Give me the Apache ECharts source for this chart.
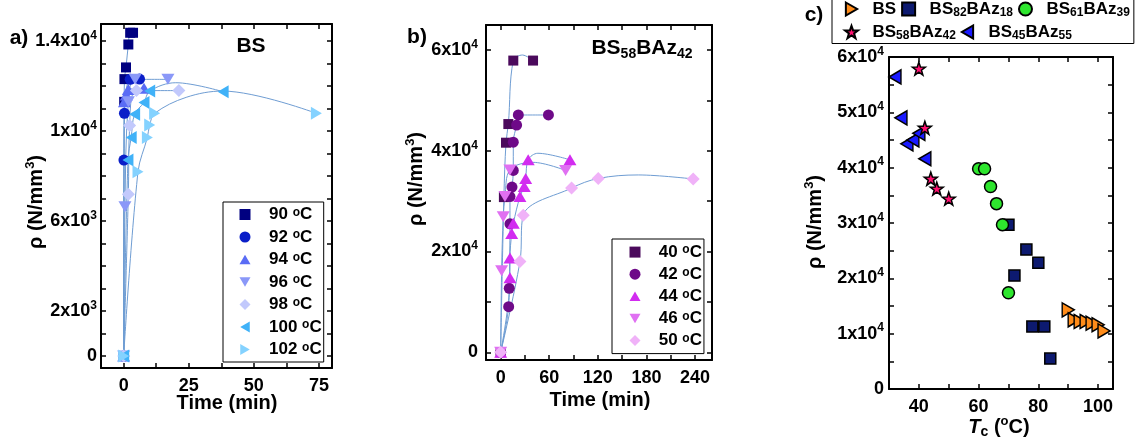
<!DOCTYPE html>
<html>
<head>
<meta charset="utf-8">
<script src="https://cdn.jsdelivr.net/npm/echarts@6.0.0/dist/echarts.min.js"></script>
<style>
html, body { margin: 0; padding: 0; background: #fff; }
#chart { width: 1139px; height: 441px; }
</style>
</head>
<body>
<div id="chart"></div>
<script>
var FONT = '"Liberation Sans", Arial, sans-serif';

// ---- a) BS : rho (N/mm3) against time (min), one set per Tc ----
var tempsA = ['90', '92', '94', '96', '98', '100', '102'];
var a90  = [[0, 0], [0.2, 11300], [0.3, 12310], [0.9, 12830], [1.8, 13850], [2.5, 14370], [3.6, 14370]];
var a92  = [[0, 0], [0.1, 8710], [0.3, 10790], [2.5, 12300], [6.1, 12310]];
var a94  = [[0, 0], [0.3, 11300], [1, 11600], [1.8, 11850], [7.8, 11900]];
var a96  = [[0, 0], [0.5, 6640], [1.8, 11300], [4.4, 12300], [17, 12300]];
var a98  = [[0, 0], [1.8, 7190], [2.3, 10250], [4.9, 11800], [21.2, 11800]];
var a100 = [[0, 0], [1.65, 8710], [2.9, 9720], [4.2, 10750], [7.8, 11270], [10, 11780], [38.2, 11750]];
var a102 = [[0, 0], [5.5, 8190], [9.1, 9720], [10, 10270], [11.9, 10790], [74, 10790]];
var fitA100 = [[0, 0], [1.65, 8710], [2.9, 9720], [4.2, 10750], [7.8, 11270], [10, 11780], [20, 12150], [38.2, 11750]];
var fitA102 = [[0, 0], [5.5, 8190], [9.1, 9720], [10, 10270], [11.9, 10790], [24, 11500], [38, 11780], [74, 10790]];

// ---- b) BS58BAz42 ----
var tempsB = ['40', '42', '44', '46', '50'];
var b40 = [[0, 0], [4, 30800], [6.6, 41600], [9.5, 45300], [15.6, 57900], [40, 57900]];
var b42 = [[0, 0], [9.9, 9050], [10.6, 12700], [11.5, 25500], [11.5, 30900], [14, 32800], [15.6, 36100], [15.6, 41700], [19.7, 45100], [21.8, 47100], [59, 47100]];
var b44 = [[0, 0], [11.5, 14800], [11.5, 18700], [13.6, 23600], [15.6, 25600], [23.8, 30900], [29.1, 32900], [30.9, 34500], [34, 38200], [85.6, 38200]];
var b46 = [[0, 0], [1.2, 16200], [3.2, 26900], [5.3, 30900], [11.5, 36200], [80.2, 36100]];
var b50 = [[0, 0], [23.8, 18000], [27.9, 27200], [87.6, 32600], [120.5, 34500], [237.8, 34400]];
var fitB40 = [[0, 0], [4, 30800], [6.6, 41600], [9.5, 45300], [15.6, 57900], [27, 59000], [40, 57900]];
var fitB44 = [[0, 0], [11.5, 14800], [11.5, 18700], [13.6, 23600], [15.6, 25600], [23.8, 30900], [29.1, 32900], [30.9, 34500], [34, 38200], [46, 39500], [85.6, 38200]];
var fitB46 = [[0, 0], [1.2, 16200], [3.2, 26900], [5.3, 30900], [11.5, 36200], [40, 37700], [80.2, 36100]];
var fitB50 = [[0, 0], [23.8, 18000], [27.9, 27200], [87.6, 32600], [120.5, 34500], [170, 35200], [237.8, 34400]];

// ---- c) rho against Tc (ºC) ----
var namesC = ['BS', 'BS82BAz18', 'BS61BAz39', 'BS58BAz42', 'BS45BAz55'];
var cBS   = [[90, 14300], [92, 12500], [94, 12200], [96, 12200], [98, 11900], [100, 11600], [102, 10500]];
var cBS82 = [[70, 29700], [72, 20500], [76, 25200], [78, 11300], [80, 22800], [82, 11300], [84, 5500]];
var cBS61 = [[60, 39800], [62, 39800], [64, 36600], [66, 33500], [68, 29700], [70, 17400]];
var cBS58 = [[40, 57900], [42, 47200], [44, 38000], [46, 36200], [50, 34400]];
var cBS45 = [[32, 56400], [34, 49000], [36, 44300], [38, 45000], [40, 46200], [42, 41600]];

// ticks and labels
var ticksAx = [0, 12.5, 25, 37.5, 50, 62.5, 75];
var labelsAx = [0, 25, 50, 75];
var ticksAy = [0, 1000, 2000, 3000, 4000, 5000, 6000, 7000, 8000, 9000, 10000, 11000, 12000, 13000, 14000];
var labelsAy = [0, 2000, 6000, 10000, 14000];
var ticksBx = [0, 30, 60, 90, 120, 150, 180, 210, 240];
var labelsBx = [0, 60, 120, 180, 240];
var ticksBy = [0, 10000, 20000, 30000, 40000, 50000, 60000];
var labelsBy = [0, 20000, 40000, 60000];
var ticksCx = [40, 50, 60, 70, 80, 90, 100];
var labelsCx = [40, 60, 80, 100];
var ticksCy = [0, 5000, 10000, 15000, 20000, 25000, 30000, 35000, 40000, 45000, 50000, 55000, 60000];
var labelsCy = [0, 10000, 20000, 30000, 40000, 50000, 60000];

var STAR = 'path://M0,-10L2.35,-3.24L9.51,-3.09L3.8,1.24L5.88,8.09L0,4L-5.88,8.09L-3.8,1.24L-9.51,-3.09L-2.35,-3.24Z';
var TRI_UP = 'path://M6,0L12,10.4L0,10.4Z';
var TRI_DOWN = 'path://M0,0L12,0L6,10.4Z';
var TRI_LEFT = 'path://M10.4,0L10.4,12L0,6Z';
var TRI_RIGHT = 'path://M0,0L10.4,6L0,12Z';
var FIT_COLOR = '#6f9dd3';

function sci(v) {
	if (v === 0) return '0';
	var e = Math.floor(Math.log10(v) + 1e-9);
	var m = Math.round(v / Math.pow(10, e) * 10) / 10;
	return m + 'x10{sup|' + e + '}';
}

function axis(gridIndex, pos, min, max, ticks, labels, fmt, margin) {
	var ax = {
		type: 'value', gridIndex: gridIndex, position: pos, min: min, max: max,
		axisLine: { show: true, onZero: false, lineStyle: { color: '#000', width: 2 } },
		axisTick: { show: true, inside: true, length: 5, customValues: ticks, lineStyle: { color: '#000', width: 1.5 } },
		splitLine: { show: false },
		axisLabel: { show: false }
	};
	if (labels) {
		ax.axisLabel = {
			show: true, customValues: labels, margin: margin,
			color: '#000', fontSize: 18, fontWeight: 'bold', fontFamily: FONT,
			lineHeight: 23,
			formatter: fmt || function(v) { return String(v); },
			rich: { sup: { fontSize: 12, fontWeight: 'bold', fontFamily: FONT, color: '#000', verticalAlign: 'top', lineHeight: 12 } }
		};
	}
	return ax;
}

function scatter(name, data, idx, symbol, size, color, border) {
	return {
		name: name, type: 'scatter', data: data, xAxisIndex: idx, yAxisIndex: idx,
		symbol: symbol, symbolSize: size, silent: true, z: 3,
		itemStyle: { color: color, opacity: 1, borderColor: border ? '#000' : color, borderWidth: border ? 1.5 : 0 }
	};
}

function fitLine(name, data, idx) {
	return {
		name: name, type: 'line', data: data, xAxisIndex: idx, yAxisIndex: idx,
		showSymbol: false, smooth: 0.35, silent: true, z: 2,
		lineStyle: { color: FIT_COLOR, width: 1 }
	};
}

var symbolsA = ['rect', 'circle', TRI_UP, TRI_DOWN, 'diamond', TRI_LEFT, TRI_RIGHT];
var sizeA = [10, 11, [13, 11], [13, 11], 13, [11, 13], [11, 13]];
var colorsA = ['#000080', '#0a1ec8', '#5a6cf5', '#8a98f8', '#c2c9fc', '#40b2f8', '#84d2ff'];
var dataA = [a90, a92, a94, a96, a98, a100, a102];
var fitsA = [a90, a92, a94, a96, a98, fitA100, fitA102];

var symbolsB = ['rect', 'circle', TRI_UP, TRI_DOWN, 'diamond'];
var sizeB = [10, 11, [13, 11], [13, 11], 13];
var colorsB = ['#4b0a5c', '#6e0a88', '#d22cf0', '#e070f2', '#f0b2f8'];
var dataB = [b40, b42, b44, b46, b50];
var fitsB = [fitB40, b42, fitB44, fitB46, fitB50];

var series = [];
var legendA = [], legendB = [];
for (var i = 0; i < tempsA.length; i++) {
	series.push(fitLine('fitA' + tempsA[i], fitsA[i], 0));
}
for (var i = 0; i < tempsA.length; i++) {
	var n = tempsA[i] + ' ºC';
	legendA.push(n);
	series.push(scatter(n, dataA[i], 0, symbolsA[i], sizeA[i], colorsA[i], false));
}
for (var i = 0; i < tempsB.length; i++) {
	series.push(fitLine('fitB' + tempsB[i], fitsB[i], 1));
}
for (var i = 0; i < tempsB.length; i++) {
	var n = tempsB[i] + ' ºC';
	legendB.push(n);
	series.push(scatter(n, dataB[i], 1, symbolsB[i], sizeB[i], colorsB[i], false));
}
series.push(scatter('BS', cBS, 2, TRI_RIGHT, [12, 14], '#ff8c1a', true));
series.push(scatter('BS82BAz18', cBS82, 2, 'rect', 11, '#0d1a70', true));
series.push(scatter('BS61BAz39', cBS61, 2, 'circle', 12, '#2ee62e', true));
series.push(scatter('BS45BAz55', cBS45, 2, TRI_LEFT, [12, 14], '#1a1aff', true));
series.push(scatter('BS58BAz42', cBS58, 2, STAR, 13, '#ff1070', true));

var RICH = {
	t: { fontSize: 20, fontWeight: 'bold', fontFamily: FONT, fill: '#000', lineHeight: 24 },
	big: { fontSize: 21, fontWeight: 'bold', fontFamily: FONT, fill: '#000', lineHeight: 26 },
	it: { fontSize: 20, fontWeight: 'bold', fontStyle: 'italic', fontFamily: FONT, fill: '#000', lineHeight: 24 },
	sup: { fontSize: 13, fontWeight: 'bold', fontFamily: FONT, fill: '#000', lineHeight: 13, verticalAlign: 'top' },
	sub: { fontSize: 14, fontWeight: 'bold', fontFamily: FONT, fill: '#000', lineHeight: 14, verticalAlign: 'bottom' }
};

function text(x, y, str, rot) {
	return {
		type: 'text', x: x, y: y, rotation: rot || 0, silent: true,
		style: { text: str, rich: RICH, fill: '#000', align: 'center', verticalAlign: 'middle', textAlign: 'center', textVerticalAlign: 'middle' }
	};
}

var legendRich = {
	t: { fontSize: 17, fontWeight: 'bold', fontFamily: FONT, color: '#000', lineHeight: 16 },
	sup: { fontSize: 12, fontWeight: 'bold', fontFamily: FONT, color: '#000', lineHeight: 11, verticalAlign: 'top' },
	sub: { fontSize: 12, fontWeight: 'bold', fontFamily: FONT, color: '#000', lineHeight: 11, verticalAlign: 'bottom' }
};
function tempLabel(name) {
	return '{t|' + name.replace(' ºC', ' ') + '}{sup|o}{t|C}';
}
function matLabel(name) {
	return name.replace(/([A-Za-z]+)(\d+)/g, '{t|$1}{sub|$2}').replace(/^BS$/, '{t|BS}');
}

var option = {
	animation: false,
	backgroundColor: '#fff',
	textStyle: { fontFamily: FONT, fontWeight: 'bold', color: '#000' },
	grid: [
		{ left: 101, top: 24, width: 231, height: 344, outerBoundsMode: 'none' },
		{ left: 486, top: 25, width: 226, height: 335, outerBoundsMode: 'none' },
		{ left: 889, top: 57, width: 224, height: 332, outerBoundsMode: 'none' }
	],
	xAxis: [
		axis(0, 'bottom', -8.7, 80, ticksAx, labelsAx, null, 7),
		axis(1, 'bottom', -18.1, 261, ticksBx, labelsBx, null, 7),
		axis(2, 'bottom', 30, 105, ticksCx, labelsCx, null, 7),
		axis(0, 'top', -8.7, 80, ticksAx),
		axis(1, 'top', -18.1, 261, ticksBx),
		axis(2, 'top', 30, 105, ticksCx)
	],
	yAxis: [
		axis(0, 'left', -530, 14760, ticksAy, labelsAy, sci, 4),
		axis(1, 'left', -1530, 64960, ticksBy, labelsBy, sci, 8),
		axis(2, 'left', 0, 60000, ticksCy, labelsCy, sci, 5),
		axis(0, 'right', -530, 14760, ticksAy),
		axis(1, 'right', -1530, 64960, ticksBy),
		axis(2, 'right', 0, 60000, ticksCy)
	],
	legend: [
		{
			data: legendA, orient: 'vertical', left: 223, top: 202, selectedMode: false,
			itemWidth: 11, itemHeight: 11, itemGap: 5.5, padding: [4, 2, 4, 16.5],
			borderColor: '#000', borderWidth: 1, backgroundColor: '#fff',
			formatter: tempLabel, textStyle: { padding: [0, 0, 0, 13.5], rich: legendRich }
		},
		{
			data: legendB, orient: 'vertical', left: 612, top: 239, selectedMode: false,
			itemWidth: 11, itemHeight: 11, itemGap: 5.1, padding: [4.6, 2, 4.6, 17.5],
			borderColor: '#000', borderWidth: 1, backgroundColor: '#fff',
			formatter: tempLabel, textStyle: { padding: [0, 0, 0, 13.2], rich: legendRich }
		},
		{
			data: namesC, orient: 'horizontal', left: 832, top: -1.5, width: 306, selectedMode: false,
			itemWidth: 13, itemHeight: 13, itemGap: 5, padding: [2, 4, 2, 12],
			borderColor: '#000', borderWidth: 1, backgroundColor: '#fff',
			formatter: matLabel,
			textStyle: { padding: [0, 0, 0, 9.5], rich: { t: { fontSize: 17, fontWeight: 'bold', fontFamily: FONT, color: '#000', lineHeight: 19 },
				sub: { fontSize: 12, fontWeight: 'bold', fontFamily: FONT, color: '#000', lineHeight: 12, verticalAlign: 'bottom' } } }
		}
	],
	graphic: { elements: [
		text(19, 38, '{big|a)}'),
		text(251, 46, '{big|BS}'),
		text(417, 37, '{big|b)}'),
		text(642, 48, '{big|BS}{sub|58}{big|BAz}{sub|42}'),
		text(814, 15, '{big|c)}'),
		text(36, 202, '{t|ρ (N/mm}{sup|3}{t|)}', Math.PI / 2),
		text(416, 179, '{t|ρ (N/mm}{sup|3}{t|)}', Math.PI / 2),
		text(815, 222, '{t|ρ (N/mm}{sup|3}{t|)}', Math.PI / 2),
		text(227, 403, '{t|Time (min)}'),
		text(600, 400, '{t|Time (min)}'),
		text(999, 427, '{it|T}{sub|c}{t| (}{sup|o}{t|C)}')
	] },
	series: series
};

var chart = echarts.init(document.getElementById('chart'));
chart.setOption(option);
</script>
</body>
</html>
